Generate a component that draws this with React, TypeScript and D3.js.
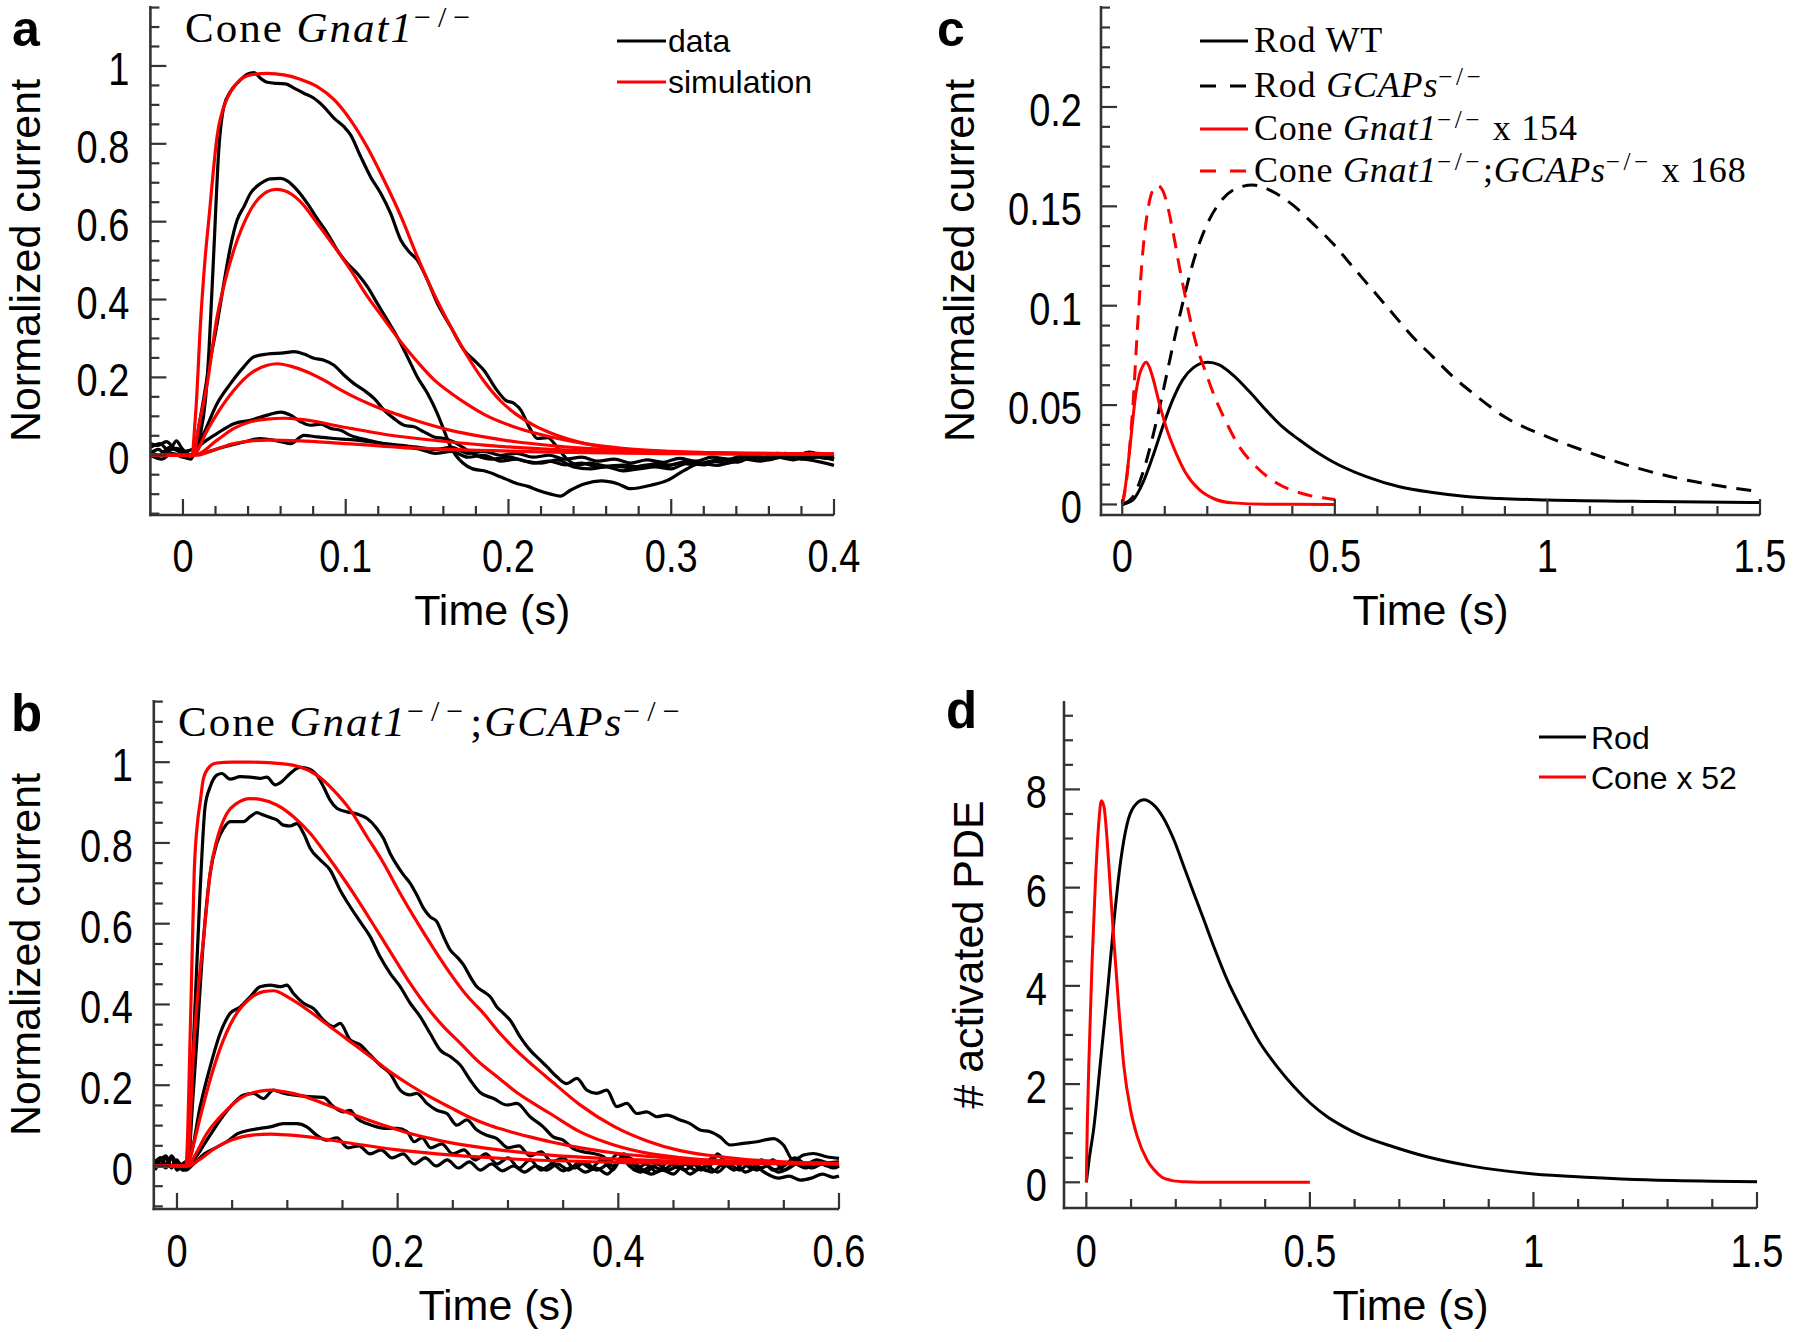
import React from 'react';
import * as d3 from 'd3';

type Pt = [number, number];

// ---------------- Panel a: Cone Gnat1-/- ----------------
const A_XTICKS = [0, 0.1, 0.2, 0.3, 0.4];
const A_YTICKS = [0, 0.2, 0.4, 0.6, 0.8, 1];

const A_DATA1: Pt[] = [[-0.02,0.02],[-0.014,0.03],[-0.009,0.012],[-0.004,0.018],[0.001,0.01],[0.005,0.0],[0.008,0.02],[0.0108,0.056],[0.014,0.15],[0.016,0.27],[0.019,0.527],[0.022,0.784],[0.0251,0.895],[0.0292,0.934],[0.0343,0.96],[0.0395,0.979],[0.0436,0.983],[0.0477,0.968],[0.0518,0.958],[0.0579,0.955],[0.063,0.954],[0.0682,0.943],[0.0743,0.93],[0.0805,0.917],[0.0866,0.895],[0.0928,0.866],[0.0989,0.844],[0.103,0.823],[0.1092,0.767],[0.1153,0.715],[0.1215,0.673],[0.1276,0.621],[0.1338,0.553],[0.1389,0.523],[0.144,0.501],[0.1502,0.45],[0.1563,0.39],[0.1645,0.33],[0.1727,0.27],[0.1799,0.24],[0.185,0.218],[0.1922,0.171],[0.1983,0.141],[0.2035,0.133],[0.2076,0.116],[0.2127,0.073],[0.2178,0.043],[0.224,0.045],[0.23,0.02],[0.236,-0.01],[0.243,-0.025],[0.25,-0.02],[0.26,-0.028],[0.27,-0.025],[0.28,-0.03],[0.29,-0.022],[0.3,-0.025],[0.31,-0.015],[0.32,-0.02],[0.33,-0.01],[0.34,-0.012],[0.35,0.0],[0.36,-0.008],[0.37,0.005],[0.38,-0.005],[0.39,0.005],[0.4,-0.008]];
const A_DATA2: Pt[] = [[-0.02,0.0],[-0.013,-0.01],[-0.007,0.005],[0.0,-0.005],[0.005,-0.01],[0.0108,0.099],[0.016,0.227],[0.021,0.338],[0.0251,0.441],[0.0292,0.536],[0.0333,0.604],[0.0374,0.638],[0.0415,0.673],[0.0477,0.698],[0.0538,0.71],[0.06,0.711],[0.0641,0.705],[0.0702,0.681],[0.0764,0.647],[0.0825,0.608],[0.0887,0.57],[0.0948,0.527],[0.1009,0.493],[0.1071,0.467],[0.1133,0.433],[0.1194,0.39],[0.1256,0.347],[0.1317,0.304],[0.1379,0.253],[0.144,0.201],[0.1502,0.159],[0.1563,0.107],[0.1604,0.064],[0.1645,0.021],[0.1676,0.0],[0.172,-0.02],[0.178,-0.035],[0.185,-0.04],[0.195,-0.055],[0.2055,-0.073],[0.212,-0.08],[0.218,-0.09],[0.226,-0.1],[0.232,-0.105],[0.238,-0.09],[0.247,-0.073],[0.257,-0.066],[0.267,-0.073],[0.275,-0.086],[0.2875,-0.077],[0.298,-0.064],[0.308,-0.039],[0.318,-0.021],[0.3285,-0.026],[0.34,-0.012],[0.349,-0.004],[0.36,-0.01],[0.37,-0.004],[0.385,-0.012],[0.4,-0.026]];
const A_DATA3: Pt[] = [[-0.02,0.01],[-0.015,0.0],[-0.008,0.02],[-0.003,0.01],[0.002,0.0],[0.0067,0.004],[0.0128,0.056],[0.021,0.133],[0.0292,0.184],[0.0374,0.227],[0.0436,0.253],[0.0518,0.26],[0.062,0.263],[0.0682,0.266],[0.0743,0.26],[0.0805,0.249],[0.0866,0.244],[0.0928,0.231],[0.0989,0.206],[0.1051,0.184],[0.1112,0.167],[0.1174,0.146],[0.1235,0.116],[0.1297,0.094],[0.1358,0.077],[0.142,0.073],[0.1481,0.06],[0.1543,0.047],[0.1604,0.043],[0.1666,0.034],[0.172,0.02],[0.18,0.0],[0.19,-0.01],[0.2,-0.005],[0.21,-0.015],[0.22,-0.02],[0.23,-0.012],[0.24,-0.03],[0.25,-0.035],[0.26,-0.03],[0.27,-0.04],[0.28,-0.035],[0.29,-0.03],[0.3,-0.035],[0.31,-0.02],[0.32,-0.025],[0.33,-0.01],[0.34,-0.018],[0.35,-0.005],[0.36,-0.012],[0.37,0.0],[0.38,-0.01],[0.39,-0.005],[0.4,-0.012]];
const A_DATA4: Pt[] = [[-0.02,0.03],[-0.016,0.025],[-0.01,0.035],[-0.006,0.02],[0.0,0.01],[0.0088,0.021],[0.015,0.04],[0.021,0.056],[0.0313,0.081],[0.0415,0.09],[0.0518,0.103],[0.06,0.111],[0.0661,0.103],[0.0723,0.086],[0.0784,0.077],[0.0846,0.08],[0.0907,0.069],[0.0969,0.064],[0.103,0.051],[0.1133,0.039],[0.1235,0.03],[0.1338,0.021],[0.144,0.017],[0.155,0.005],[0.165,0.01],[0.175,-0.005],[0.185,0.0],[0.195,-0.015],[0.205,-0.01],[0.215,-0.02],[0.225,-0.015],[0.235,-0.025],[0.245,-0.02],[0.255,-0.03],[0.265,-0.028],[0.275,-0.032],[0.285,-0.025],[0.295,-0.03],[0.305,-0.02],[0.315,-0.024],[0.325,-0.015],[0.335,-0.02],[0.345,-0.01],[0.355,-0.015],[0.365,-0.005],[0.375,-0.012],[0.385,0.0],[0.395,-0.008],[0.4,-0.005]];
const A_DATA5: Pt[] = [[-0.02,0.005],[-0.015,0.015],[-0.011,0.005],[-0.007,0.02],[-0.004,0.037],[-0.001,0.02],[0.004,0.0],[0.0108,0.004],[0.0251,0.021],[0.0374,0.034],[0.0477,0.043],[0.0579,0.037],[0.0661,0.03],[0.0743,0.051],[0.0825,0.047],[0.0928,0.043],[0.103,0.04],[0.1235,0.03],[0.144,0.021],[0.155,0.015],[0.165,0.02],[0.175,0.005],[0.185,0.01],[0.195,0.0],[0.205,0.005],[0.215,-0.005],[0.225,0.0],[0.235,-0.01],[0.245,-0.005],[0.255,-0.015],[0.265,-0.01],[0.275,-0.02],[0.285,-0.012],[0.295,-0.018],[0.305,-0.008],[0.315,-0.015],[0.325,-0.005],[0.335,-0.01],[0.345,0.0],[0.355,-0.008],[0.365,0.005],[0.375,-0.002],[0.385,0.008],[0.395,0.0],[0.4,0.003]];

const A_SIM1: Pt[] = [[-0.02,0],[0.005,0],[0.008,0.12],[0.0108,0.34],[0.0135,0.5],[0.016,0.61],[0.021,0.82],[0.027,0.915],[0.033,0.955],[0.0415,0.977],[0.052,0.981],[0.062,0.977],[0.072,0.966],[0.0825,0.947],[0.093,0.913],[0.103,0.861],[0.113,0.793],[0.1235,0.707],[0.134,0.613],[0.144,0.51],[0.154,0.416],[0.1645,0.33],[0.175,0.253],[0.185,0.19],[0.195,0.14],[0.2055,0.103],[0.216,0.076],[0.226,0.057],[0.247,0.03],[0.267,0.016],[0.29,0.008],[0.33,0.004],[0.4,0.002]];
const A_SIM2: Pt[] = [[-0.02,0],[0.006,0],[0.01,0.08],[0.0149,0.184],[0.021,0.356],[0.026,0.45],[0.0313,0.527],[0.0415,0.63],[0.0518,0.677],[0.057,0.683],[0.062,0.68],[0.0723,0.651],[0.0825,0.596],[0.093,0.536],[0.103,0.476],[0.113,0.41],[0.1235,0.35],[0.134,0.29],[0.144,0.24],[0.154,0.195],[0.1645,0.16],[0.175,0.13],[0.185,0.105],[0.2055,0.07],[0.226,0.047],[0.247,0.03],[0.27,0.018],[0.3,0.01],[0.35,0.005],[0.4,0.003]];
const A_SIM3: Pt[] = [[-0.02,0],[0.006,0],[0.0149,0.064],[0.021,0.107],[0.0313,0.167],[0.0415,0.21],[0.0518,0.231],[0.058,0.235],[0.066,0.229],[0.0764,0.214],[0.0866,0.193],[0.0969,0.168],[0.107,0.146],[0.119,0.124],[0.1317,0.105],[0.144,0.088],[0.1645,0.064],[0.185,0.047],[0.2055,0.034],[0.226,0.025],[0.25,0.017],[0.3,0.009],[0.35,0.005],[0.4,0.003]];
const A_SIM4: Pt[] = [[-0.02,0],[0.007,0],[0.021,0.039],[0.0313,0.069],[0.0415,0.086],[0.0518,0.093],[0.062,0.095],[0.0723,0.092],[0.0825,0.086],[0.0928,0.077],[0.103,0.069],[0.1235,0.054],[0.144,0.043],[0.1645,0.034],[0.185,0.026],[0.226,0.015],[0.27,0.009],[0.33,0.005],[0.4,0.003]];
const A_SIM5: Pt[] = [[-0.02,0],[0.008,0],[0.02,0.015],[0.0313,0.03],[0.0518,0.039],[0.0723,0.037],[0.0928,0.032],[0.1235,0.023],[0.1645,0.015],[0.226,0.008],[0.3,0.004],[0.4,0.002]];

// ---------------- Panel b: Cone Gnat1-/-;GCAPs-/- ----------------
const B_XTICKS = [0, 0.2, 0.4, 0.6];
const B_YTICKS = [0, 0.2, 0.4, 0.6, 0.8, 1];

const B_DATA1: Pt[] = [[-0.02,0.01],[-0.015,0.02],[-0.01,0.0],[-0.005,0.025],[0.0,0.005],[0.004,-0.005],[0.0089,0.006],[0.015,0.312],[0.021,0.683],[0.0255,0.89],[0.0301,0.939],[0.0361,0.968],[0.0406,0.972],[0.0482,0.958],[0.0573,0.964],[0.0663,0.963],[0.0754,0.96],[0.0814,0.963],[0.089,0.944],[0.095,0.952],[0.1026,0.972],[0.1116,0.987],[0.1177,0.985],[0.1267,0.968],[0.1328,0.939],[0.1388,0.906],[0.1449,0.886],[0.1539,0.877],[0.163,0.872],[0.1721,0.861],[0.1811,0.836],[0.1872,0.811],[0.1932,0.774],[0.1993,0.745],[0.2053,0.721],[0.2114,0.7],[0.2174,0.671],[0.2235,0.638],[0.2295,0.617],[0.2355,0.605],[0.2416,0.568],[0.2476,0.535],[0.2537,0.518],[0.2597,0.498],[0.2657,0.469],[0.2718,0.444],[0.2778,0.432],[0.2839,0.419],[0.2899,0.394],[0.2959,0.378],[0.302,0.361],[0.311,0.32],[0.32,0.287],[0.3292,0.262],[0.3352,0.246],[0.3442,0.221],[0.3533,0.204],[0.3624,0.217],[0.3714,0.188],[0.3805,0.18],[0.3896,0.188],[0.3986,0.147],[0.4077,0.155],[0.4167,0.13],[0.4258,0.134],[0.4349,0.122],[0.444,0.126],[0.456,0.114],[0.465,0.105],[0.4741,0.089],[0.4832,0.085],[0.4922,0.072],[0.5013,0.052],[0.5134,0.056],[0.5255,0.06],[0.5406,0.068],[0.5496,0.052],[0.5587,0.014],[0.5678,0.027],[0.5768,0.031],[0.5889,0.023],[0.6,0.019]];
const B_DATA2: Pt[] = [[-0.02,-0.005],[-0.015,0.015],[-0.01,0.025],[-0.005,0.0],[0.0,0.015],[0.005,-0.01],[0.01,0.0],[0.014,0.15],[0.018,0.312],[0.024,0.56],[0.0301,0.725],[0.0361,0.799],[0.0422,0.836],[0.0482,0.853],[0.0543,0.853],[0.0603,0.853],[0.0663,0.865],[0.0724,0.875],[0.0784,0.869],[0.0845,0.863],[0.0905,0.857],[0.0965,0.844],[0.1026,0.842],[0.1086,0.848],[0.1147,0.824],[0.1207,0.787],[0.1298,0.758],[0.1388,0.733],[0.1479,0.683],[0.157,0.642],[0.166,0.605],[0.1751,0.568],[0.1841,0.518],[0.1932,0.477],[0.2023,0.444],[0.2114,0.403],[0.2204,0.37],[0.2295,0.328],[0.2386,0.287],[0.2476,0.271],[0.2567,0.25],[0.2657,0.213],[0.2748,0.182],[0.287,0.167],[0.299,0.151],[0.308,0.155],[0.32,0.122],[0.332,0.097],[0.341,0.072],[0.35,0.064],[0.359,0.043],[0.3684,0.035],[0.3775,0.031],[0.3866,0.023],[0.395,0.0],[0.405,0.025],[0.415,-0.01],[0.425,0.005],[0.435,-0.015],[0.445,0.01],[0.455,-0.005],[0.465,0.015],[0.475,-0.01],[0.485,0.02],[0.495,0.0],[0.505,0.01],[0.515,-0.015],[0.525,-0.005],[0.535,-0.02],[0.545,-0.03],[0.555,-0.025],[0.565,-0.035],[0.575,-0.03],[0.585,-0.02],[0.595,-0.028],[0.6,-0.025]];
const B_DATA3: Pt[] = [[-0.02,0.0],[-0.015,0.02],[-0.01,0.005],[-0.005,0.02],[0.0,-0.01],[0.005,0.005],[0.012,0.023],[0.021,0.147],[0.0301,0.246],[0.0391,0.328],[0.0482,0.378],[0.0573,0.394],[0.0663,0.419],[0.0754,0.444],[0.0845,0.448],[0.0935,0.444],[0.0996,0.448],[0.1056,0.427],[0.1147,0.403],[0.1237,0.39],[0.1328,0.361],[0.1418,0.345],[0.1479,0.353],[0.157,0.312],[0.166,0.3],[0.1751,0.275],[0.1841,0.25],[0.1932,0.229],[0.2023,0.188],[0.2114,0.176],[0.2174,0.18],[0.2265,0.155],[0.2355,0.138],[0.2446,0.13],[0.2537,0.101],[0.2627,0.114],[0.2718,0.089],[0.2808,0.076],[0.2899,0.068],[0.3,0.045],[0.31,0.05],[0.32,0.025],[0.33,0.035],[0.34,0.01],[0.35,0.02],[0.36,-0.005],[0.37,0.01],[0.38,-0.01],[0.39,0.005],[0.4,0.03],[0.41,0.0],[0.42,-0.015],[0.43,0.0],[0.44,-0.01],[0.45,0.005],[0.46,-0.01],[0.47,0.005],[0.48,-0.012],[0.49,0.03],[0.5,0.0],[0.51,0.015],[0.52,-0.005],[0.53,0.015],[0.54,-0.01],[0.55,0.0],[0.56,0.02],[0.57,0.005],[0.58,0.015],[0.59,0.008],[0.6,0.01]];
const B_DATA4: Pt[] = [[-0.02,0.015],[-0.015,0.0],[-0.01,0.02],[-0.005,-0.005],[0.0,0.01],[0.006,0.0],[0.015,0.015],[0.0271,0.064],[0.0391,0.114],[0.0512,0.155],[0.0603,0.176],[0.0693,0.18],[0.0784,0.167],[0.0874,0.188],[0.0965,0.18],[0.1056,0.176],[0.1147,0.173],[0.1237,0.171],[0.1328,0.17],[0.1418,0.147],[0.1509,0.134],[0.157,0.138],[0.163,0.118],[0.1721,0.105],[0.1811,0.097],[0.1902,0.093],[0.1993,0.093],[0.2084,0.085],[0.215,0.06],[0.222,0.07],[0.23,0.045],[0.24,0.055],[0.25,0.03],[0.26,0.04],[0.27,0.015],[0.28,0.03],[0.29,0.005],[0.3,0.02],[0.31,-0.005],[0.32,0.015],[0.33,-0.01],[0.34,0.005],[0.35,-0.012],[0.36,0.0],[0.37,-0.015],[0.38,-0.005],[0.39,-0.02],[0.4,0.01],[0.41,0.02],[0.42,-0.005],[0.43,-0.02],[0.44,-0.01],[0.45,-0.02],[0.46,0.005],[0.47,-0.01],[0.48,0.0],[0.49,-0.015],[0.5,0.005],[0.51,-0.01],[0.52,0.01],[0.53,-0.005],[0.54,0.015],[0.55,-0.01],[0.56,0.005],[0.57,-0.005],[0.58,0.01],[0.59,0.0],[0.6,0.005]];
const B_DATA5: Pt[] = [[-0.02,-0.01],[-0.015,0.005],[-0.01,-0.005],[-0.005,0.02],[0.0,0.0],[0.008,-0.01],[0.015,0.005],[0.025,0.03],[0.035,0.045],[0.045,0.06],[0.055,0.08],[0.0663,0.089],[0.0754,0.093],[0.0845,0.097],[0.0965,0.105],[0.1086,0.105],[0.1177,0.097],[0.1267,0.076],[0.1358,0.064],[0.145,0.07],[0.155,0.045],[0.165,0.05],[0.175,0.03],[0.185,0.04],[0.195,0.02],[0.205,0.03],[0.215,0.005],[0.225,0.02],[0.235,0.0],[0.245,0.015],[0.255,-0.005],[0.265,0.01],[0.275,-0.01],[0.285,0.005],[0.295,-0.012],[0.305,0.0],[0.315,-0.015],[0.325,0.0],[0.335,-0.01],[0.345,0.005],[0.355,-0.01],[0.365,0.01],[0.375,-0.005],[0.385,0.015],[0.395,-0.01],[0.405,0.03],[0.415,0.0],[0.425,-0.015],[0.435,0.005],[0.445,-0.01],[0.455,0.0],[0.465,-0.02],[0.475,-0.005],[0.485,-0.015],[0.495,0.005],[0.505,-0.01],[0.515,0.01],[0.525,-0.01],[0.535,0.0],[0.545,-0.015],[0.555,-0.005],[0.565,0.01],[0.575,-0.005],[0.585,0.005],[0.595,-0.005],[0.6,0.0]];

const B_SIM1: Pt[] = [[-0.02,0],[0.008,0],[0.0126,0.394],[0.0156,0.725],[0.019,0.86],[0.021,0.9],[0.024,0.96],[0.03,0.99],[0.036,0.998],[0.05,1.0],[0.0663,1.0],[0.0965,0.996],[0.1116,0.988],[0.1267,0.968],[0.1418,0.931],[0.157,0.882],[0.1721,0.816],[0.1872,0.75],[0.2023,0.675],[0.2174,0.605],[0.2325,0.539],[0.2476,0.477],[0.2627,0.422],[0.2778,0.378],[0.2929,0.328],[0.308,0.285],[0.3231,0.248],[0.3382,0.213],[0.365,0.152],[0.396,0.098],[0.426,0.062],[0.456,0.038],[0.486,0.025],[0.516,0.016],[0.546,0.011],[0.577,0.007],[0.6,0.006]];
const B_SIM2: Pt[] = [[-0.02,0],[0.009,0],[0.0156,0.312],[0.02,0.46],[0.024,0.56],[0.03,0.725],[0.0361,0.807],[0.0452,0.873],[0.0542,0.898],[0.0663,0.91],[0.0754,0.908],[0.0905,0.894],[0.1056,0.865],[0.1207,0.824],[0.1358,0.77],[0.1509,0.712],[0.166,0.65],[0.1811,0.584],[0.1962,0.518],[0.2114,0.452],[0.2265,0.394],[0.2416,0.345],[0.2567,0.304],[0.2718,0.262],[0.2929,0.215],[0.308,0.182],[0.3231,0.155],[0.3382,0.13],[0.365,0.085],[0.396,0.052],[0.426,0.032],[0.456,0.021],[0.5,0.012],[0.55,0.008],[0.6,0.006]];
const B_SIM3: Pt[] = [[-0.02,0],[0.009,0],[0.012,0.023],[0.021,0.12],[0.03,0.213],[0.039,0.29],[0.0512,0.365],[0.0663,0.415],[0.0784,0.432],[0.0874,0.434],[0.1025,0.415],[0.1207,0.382],[0.1388,0.345],[0.157,0.308],[0.1751,0.271],[0.1932,0.233],[0.2114,0.2],[0.2295,0.171],[0.2476,0.145],[0.2657,0.12],[0.2838,0.1],[0.3019,0.085],[0.32,0.072],[0.3382,0.06],[0.37,0.043],[0.4,0.031],[0.45,0.019],[0.5,0.012],[0.55,0.008],[0.6,0.006]];
const B_SIM4: Pt[] = [[-0.02,0],[0.01,0],[0.015,0.02],[0.027,0.08],[0.042,0.13],[0.057,0.167],[0.0724,0.184],[0.0844,0.188],[0.0965,0.184],[0.1146,0.173],[0.1327,0.155],[0.157,0.13],[0.1872,0.101],[0.2174,0.076],[0.2476,0.058],[0.2778,0.045],[0.308,0.035],[0.338,0.027],[0.4,0.017],[0.5,0.009],[0.6,0.006]];
const B_SIM5: Pt[] = [[-0.02,0],[0.01,0],[0.02,0.015],[0.035,0.045],[0.05,0.065],[0.07,0.077],[0.085,0.079],[0.1,0.077],[0.13,0.068],[0.16,0.055],[0.2,0.04],[0.25,0.027],[0.3,0.018],[0.4,0.009],[0.5,0.006],[0.6,0.005]];

// ---------------- Panel c: normalized single-photon responses ----------------
const C_XTICKS = [0, 0.5, 1, 1.5];
const C_YTICKS = [0, 0.05, 0.1, 0.15, 0.2];

const C_ROD_WT: Pt[] = [[0,0],[0.0253,0.0023],[0.0481,0.0107],[0.0716,0.024],[0.095,0.039],[0.1186,0.0526],[0.142,0.0627],[0.166,0.0686],[0.201,0.0715],[0.228,0.0702],[0.26,0.0652],[0.299,0.0568],[0.338,0.0475],[0.377,0.039],[0.417,0.0324],[0.456,0.0265],[0.495,0.0215],[0.574,0.014],[0.652,0.0089],[0.73,0.006],[0.809,0.004],[0.887,0.003],[1.0,0.0023],[1.25,0.0015],[1.5,0.001]];
const C_ROD_GCAPS: Pt[] = [[0,0],[0.0253,0.0039],[0.048,0.0157],[0.0716,0.034],[0.095,0.0559],[0.1186,0.0794],[0.142,0.1012],[0.166,0.1213],[0.197,0.1398],[0.228,0.1515],[0.268,0.159],[0.307,0.1607],[0.354,0.1574],[0.401,0.1507],[0.448,0.1414],[0.495,0.1314],[0.542,0.1196],[0.589,0.1079],[0.636,0.0961],[0.683,0.0844],[0.73,0.0744],[0.778,0.0643],[0.825,0.0559],[0.9,0.044],[1.0,0.034],[1.1,0.026],[1.2,0.019],[1.3,0.0135],[1.4,0.0095],[1.5,0.0065]];
const C_CONE: Pt[] = [[0,0],[0.008,0.01],[0.0167,0.026],[0.025,0.043],[0.032,0.056],[0.04,0.065],[0.048,0.0695],[0.056,0.0715],[0.064,0.069],[0.0716,0.064],[0.087,0.051],[0.103,0.039],[0.127,0.0256],[0.15,0.0156],[0.182,0.0073],[0.22,0.0025],[0.26,0.0008],[0.34,0.0001],[0.5,0]];
const C_CONE_GCAPS: Pt[] = [[0,0],[0.01,0.012],[0.018,0.03],[0.0253,0.0505],[0.037,0.093],[0.048,0.1263],[0.06,0.148],[0.0716,0.158],[0.083,0.1605],[0.095,0.158],[0.103,0.1532],[0.1186,0.138],[0.134,0.12],[0.15,0.1029],[0.1736,0.081],[0.197,0.066],[0.2206,0.0525],[0.244,0.0416],[0.2755,0.029],[0.315,0.019],[0.362,0.0109],[0.417,0.0059],[0.5,0.0025]];

// ---------------- Panel d: activated PDE ----------------
const D_XTICKS = [0, 0.5, 1, 1.5];
const D_YTICKS = [0, 2, 4, 6, 8];

const D_ROD: Pt[] = [[0,0],[0.006,0.45],[0.017,1.13],[0.032,2.49],[0.047,3.85],[0.062,5.34],[0.077,6.56],[0.0915,7.31],[0.1064,7.65],[0.1287,7.79],[0.151,7.68],[0.173,7.41],[0.196,6.97],[0.218,6.43],[0.2405,5.88],[0.263,5.34],[0.285,4.8],[0.315,4.12],[0.352,3.44],[0.389,2.83],[0.427,2.35],[0.464,1.95],[0.501,1.61],[0.538,1.34],[0.576,1.13],[0.613,0.96],[0.688,0.72],[0.762,0.52],[0.862,0.33],[1.0,0.17],[1.13,0.1],[1.25,0.05],[1.4,0.02],[1.5,0.01]];
const D_CONE: Pt[] = [[0,0],[0.0007,0.45],[0.0058,2.49],[0.013,4.53],[0.0208,6.23],[0.0283,7.38],[0.0335,7.77],[0.0394,7.65],[0.047,6.9],[0.0543,5.88],[0.062,4.87],[0.073,3.51],[0.0841,2.35],[0.099,1.47],[0.114,0.93],[0.136,0.45],[0.15,0.27],[0.17,0.1],[0.19,0.04],[0.22,0.01],[0.25,0],[0.5,0]];

// ---------------- rendering ----------------
const SANS = "'Liberation Sans', Arial, Helvetica, sans-serif";
const SERIF = "'Liberation Serif', 'Times New Roman', serif";
const RED = '#ff0000';
const BLACK = '#000000';
const AXIS = '#333333';

type Series = { pts: Pt[]; color: string; dash?: string; width?: number };
type PanelSpec = {
  xDomain: [number, number]; xRange: [number, number];
  yDomain: [number, number]; yRange: [number, number];
  xTicks: number[]; xMinor: number; yTicks: number[]; yMinor: number; yMinorMin?: number;
  tickLabelY: number; yTickGap: number; xTitleY: number; yTitleX: number; yLabel: string;
  series: Series[];
};

function steps(a: number, b: number, step: number): number[] {
  const out: number[] = [];
  const k0 = Math.ceil(a / step - 1e-9), k1 = Math.floor(b / step + 1e-9);
  for (let k = k0; k <= k1; k++) out.push(+(k * step).toFixed(10));
  return out;
}

const TICK_FS = 38;
const TICK_STRETCH = 1.24;

function Panel({ s }: { s: PanelSpec }) {
  const x = d3.scaleLinear().domain(s.xDomain).range(s.xRange);
  const y = d3.scaleLinear().domain(s.yDomain).range(s.yRange);
  const line = d3.line<Pt>().x(d => x(d[0])).y(d => y(d[1])).curve(d3.curveMonotoneX);
  const [xl, xr] = s.xRange;
  const [yb, yt] = s.yRange;
  const isMaj = (arr: number[], v: number) => arr.some(t => Math.abs(t - v) < 1e-9);
  const xm = steps(s.xDomain[0], s.xDomain[1], s.xMinor).filter(v => x(v) > xl + 1);
  const ym = steps(s.yMinorMin ?? s.yDomain[0], s.yDomain[1], s.yMinor).filter(v => y(v) < yb - 1);
  return (
    <g>
      {s.series.map((se, i) => (
        <path key={i} d={line(se.pts) || ''} fill="none" stroke={se.color}
          strokeWidth={se.width ?? 3.2} strokeDasharray={se.dash} strokeLinejoin="round" />
      ))}
      {xm.map((v, i) => {
        const len = isMaj(s.xTicks, v) ? 16 : 9;
        return <line key={'xt' + i} x1={x(v)} x2={x(v)} y1={yb} y2={yb - len} stroke={AXIS} strokeWidth={2.2} />;
      })}
      {ym.map((v, i) => {
        const len = isMaj(s.yTicks, v) ? 16 : 9;
        return <line key={'yt' + i} x1={xl} x2={xl + len} y1={y(v)} y2={y(v)} stroke={AXIS} strokeWidth={2.2} />;
      })}
      <line x1={xl} x2={xl} y1={yt} y2={yb + 1.2} stroke={AXIS} strokeWidth={2.6} />
      <line x1={xl - 1.2} x2={xr} y1={yb} y2={yb} stroke={AXIS} strokeWidth={2.6} />
      {s.xTicks.map((v, i) => (
        <text key={'xl' + i} transform={`translate(${x(v)},${s.tickLabelY}) scale(1,${TICK_STRETCH})`}
          textAnchor="middle" fontFamily={SANS} fontSize={TICK_FS} fill="#000">{String(v)}</text>
      ))}
      {s.yTicks.map((v, i) => (
        <text key={'yl' + i} transform={`translate(${xl - s.yTickGap},${y(v) + 2}) scale(1,${TICK_STRETCH})`}
          dy="0.36em" textAnchor="end" fontFamily={SANS} fontSize={TICK_FS} fill="#000">{String(v)}</text>
      ))}
      <text x={(xl + xr) / 2} y={s.xTitleY} textAnchor="middle" fontFamily={SANS} fontSize={43} fill="#000">Time (s)</text>
      <text transform={`translate(${s.yTitleX},${(yb + yt) / 2}) rotate(-90)`} textAnchor="middle" fontFamily={SANS} fontSize={43} fill="#000">{s.yLabel}</text>
    </g>
  );
}

type Seg = { t: string; it?: boolean; sup?: boolean };
function Rich({ x, y, size, segs, ls, supLs }: { x: number; y: number; size: number; segs: Seg[]; ls: number; supLs: number }) {
  let cur = 0;
  return (
    <text x={x} y={y} fontFamily={SERIF} fontSize={size} fill="#000" style={{ whiteSpace: 'pre' }}>
      {segs.map((g, i) => {
        const target = g.sup ? -size * 0.34 : 0;
        const dy = target - cur;
        cur = target;
        return (
          <tspan key={i} dy={dy} fontStyle={g.it ? 'italic' : 'normal'} fontSize={g.sup ? size * 0.7 : size}
            letterSpacing={g.sup ? supLs : ls}>{g.t}</tspan>
        );
      })}
    </text>
  );
}

const MM = '\u2212/\u2212';

export default function App() {
  const panelA: PanelSpec = {
    xDomain: [-0.02, 0.4], xRange: [150.4, 834], yDomain: [-0.1535, 1.154], yRange: [515, 6],
    xTicks: A_XTICKS, xMinor: 0.02, yTicks: A_YTICKS, yMinor: 0.05,
    tickLabelY: 572, yTickGap: 21, xTitleY: 625, yTitleX: 40, yLabel: 'Normalized current',
    series: [
      { pts: A_DATA1, color: BLACK }, { pts: A_DATA2, color: BLACK }, { pts: A_DATA3, color: BLACK },
      { pts: A_DATA4, color: BLACK }, { pts: A_DATA5, color: BLACK },
      { pts: A_SIM1, color: RED }, { pts: A_SIM2, color: RED }, { pts: A_SIM3, color: RED },
      { pts: A_SIM4, color: RED }, { pts: A_SIM5, color: RED },
    ],
  };
  const panelB: PanelSpec = {
    xDomain: [-0.021, 0.6], xRange: [153.8, 839], yDomain: [-0.1065, 1.154], yRange: [1209, 700],
    xTicks: B_XTICKS, xMinor: 0.05, yTicks: B_YTICKS, yMinor: 0.05,
    tickLabelY: 1267, yTickGap: 21, xTitleY: 1320, yTitleX: 40, yLabel: 'Normalized current',
    series: [
      { pts: B_DATA1, color: BLACK }, { pts: B_DATA2, color: BLACK }, { pts: B_DATA3, color: BLACK },
      { pts: B_DATA4, color: BLACK }, { pts: B_DATA5, color: BLACK },
      { pts: B_SIM1, color: RED }, { pts: B_SIM2, color: RED }, { pts: B_SIM3, color: RED },
      { pts: B_SIM4, color: RED }, { pts: B_SIM5, color: RED },
    ],
  };
  const panelC: PanelSpec = {
    xDomain: [-0.05, 1.5], xRange: [1101, 1760], yDomain: [-0.0053, 0.2508], yRange: [515, 6],
    xTicks: C_XTICKS, xMinor: 0.1, yTicks: C_YTICKS, yMinor: 0.01, yMinorMin: 0,
    tickLabelY: 572, yTickGap: 19, xTitleY: 625, yTitleX: 974, yLabel: 'Normalized current',
    series: [
      { pts: C_ROD_WT, color: BLACK, width: 3 },
      { pts: C_ROD_GCAPS, color: BLACK, dash: '15,10', width: 3 },
      { pts: C_CONE, color: RED, width: 3 },
      { pts: C_CONE_GCAPS, color: RED, dash: '15,10', width: 3 },
    ],
  };
  const panelD: PanelSpec = {
    xDomain: [-0.05, 1.5], xRange: [1064, 1757], yDomain: [-0.523, 9.8], yRange: [1208, 701],
    xTicks: D_XTICKS, xMinor: 0.1, yTicks: D_YTICKS, yMinor: 0.5, yMinorMin: 0,
    tickLabelY: 1267, yTickGap: 17, xTitleY: 1320, yTitleX: 983, yLabel: '# activated PDE',
    series: [
      { pts: D_ROD, color: BLACK, width: 3 },
      { pts: D_CONE, color: RED, width: 3 },
    ],
  };

  const legC = [
    { y: 41, color: BLACK, dash: undefined as string | undefined, segs: [{ t: 'Rod WT' }] as Seg[] },
    { y: 86, color: BLACK, dash: '16,14', segs: [{ t: 'Rod ' }, { t: 'GCAPs', it: true }, { t: MM, sup: true }] as Seg[] },
    { y: 129, color: RED, dash: undefined, segs: [{ t: 'Cone ' }, { t: 'Gnat1', it: true }, { t: MM, sup: true }, { t: ' x 154' }] as Seg[] },
    { y: 171, color: RED, dash: '16,14', segs: [{ t: 'Cone ' }, { t: 'Gnat1', it: true }, { t: MM, sup: true }, { t: ';' }, { t: 'GCAPs', it: true }, { t: MM, sup: true }, { t: ' x 168' }] as Seg[] },
  ];

  return (
    <svg width={1796} height={1342} viewBox="0 0 1796 1342" style={{ position: 'absolute', left: 0, top: 0, display: 'block' }}>
      <rect x={0} y={0} width={1796} height={1342} fill="#fff" />
      <Panel s={panelA} />
      <Panel s={panelB} />
      <Panel s={panelC} />
      <Panel s={panelD} />

      {/* panel letters */}
      <text x={12} y={46} fontFamily={SANS} fontWeight="bold" fontSize={50}>a</text>
      <text x={11} y={731} fontFamily={SANS} fontWeight="bold" fontSize={51}>b</text>
      <text x={937} y={46} fontFamily={SANS} fontWeight="bold" fontSize={50}>c</text>
      <text x={946} y={728} fontFamily={SANS} fontWeight="bold" fontSize={51}>d</text>

      {/* titles */}
      <Rich x={185} y={42} size={43} ls={2} supLs={7} segs={[{ t: 'Cone ' }, { t: 'Gnat1', it: true }, { t: MM, sup: true }]} />
      <Rich x={178} y={736} size={43} ls={2} supLs={7} segs={[{ t: 'Cone ' }, { t: 'Gnat1', it: true }, { t: MM, sup: true }, { t: ';' }, { t: 'GCAPs', it: true }, { t: MM, sup: true }]} />

      {/* legend a */}
      <line x1={617} x2={666} y1={41} y2={41} stroke={BLACK} strokeWidth={3} />
      <text x={668} y={52} fontFamily={SANS} fontSize={32}>data</text>
      <line x1={617} x2={666} y1={82} y2={82} stroke={RED} strokeWidth={3} />
      <text x={668} y={93} fontFamily={SANS} fontSize={32}>simulation</text>

      {/* legend c */}
      {legC.map((r, i) => (
        <g key={i}>
          <line x1={1200} x2={1248} y1={r.y} y2={r.y} stroke={r.color} strokeWidth={3} strokeDasharray={r.dash} />
          <Rich x={1254} y={r.y + 11} size={36} ls={0.8} supLs={3.5} segs={r.segs} />
        </g>
      ))}

      {/* legend d */}
      <line x1={1539} x2={1586} y1={737} y2={737} stroke={BLACK} strokeWidth={3} />
      <text x={1591} y={749} fontFamily={SANS} fontSize={32}>Rod</text>
      <line x1={1539} x2={1586} y1={777} y2={777} stroke={RED} strokeWidth={3} />
      <text x={1591} y={789} fontFamily={SANS} fontSize={32}>Cone x 52</text>
    </svg>
  );
}
